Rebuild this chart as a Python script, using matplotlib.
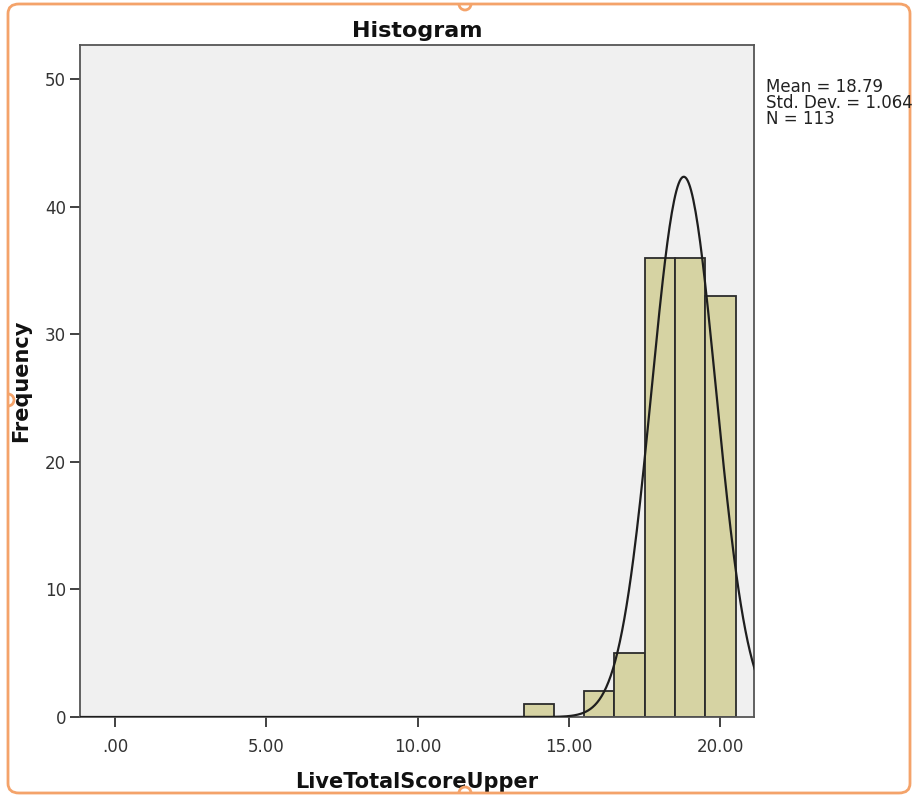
import matplotlib.pyplot as plt
from matplotlib.patches import FancyBboxPatch, Arc
import numpy as np

# histogram bins (left edges) and frequencies
bin_left = [13.5, 15.5, 16.5, 17.5, 18.5, 19.5]
counts = [1, 2, 5, 36, 36, 33]
bin_width = 1.0

mean = 18.79
std_dev = 1.064
n = 113

x_ticks = [0, 5, 10, 15, 20]
x_ticklabels = ['.00', '5.00', '10.00', '15.00', '20.00']
y_ticks = [0, 10, 20, 30, 40, 50]

plt.rcParams['font.family'] = ['DejaVu Sans']

fig = plt.figure(figsize=(9.16, 7.97), dpi=100)
ax = fig.add_axes([80/916, 1 - 717/797, (754 - 80)/916, (717 - 45)/797])
ax.set_facecolor('#f0f0f0')

ax.bar(bin_left, counts, width=bin_width, align='edge',
       color='#d6d3a3', edgecolor='#2b2b2b', linewidth=1.3, zorder=2)

# fitted normal curve
xs = np.linspace(-1.2, 21.2, 600)
ys = n * bin_width / (std_dev * np.sqrt(2 * np.pi)) * np.exp(-0.5 * ((xs - mean) / std_dev) ** 2)
ax.plot(xs, ys, color='#1e1e1e', linewidth=1.6, zorder=3)

ax.set_xlim(-1.16, 21.11)
ax.set_ylim(0, 52.7)
ax.set_xticks(x_ticks)
ax.set_xticklabels(x_ticklabels)
ax.set_yticks(y_ticks)
ax.tick_params(direction='out', length=7, width=1.3, color='#333333',
               labelsize=12, labelcolor='#333333', pad=3)
ax.tick_params(axis='x', pad=8)
for s in ax.spines.values():
    s.set_color('#555555')
    s.set_linewidth(1.3)

ax.set_title('Histogram', fontsize=16, fontweight='bold', pad=6, color='#111111')
ax.set_xlabel('LiveTotalScoreUpper', fontsize=15, fontweight='bold', labelpad=12, color='#111111')
ax.set_ylabel('Frequency', fontsize=15, fontweight='bold', labelpad=10, color='#111111')

fig.text(766/916, 1 - 78/797, 'Mean = 18.79\nStd. Dev. = 1.064\nN = 113',
         fontsize=12, va='top', ha='left', linespacing=0.85, color='#222222')

# orange rounded frame with small inward notches
orange = '#f4a36a'
frame = FancyBboxPatch((8/916, 4/797), 902/916, 789/797,
                       boxstyle='round,pad=0,rounding_size=0.012',
                       transform=fig.transFigure, fill=False,
                       edgecolor=orange, linewidth=2, zorder=0)
fig.patches.append(frame)
# (x, y from top of image, theta1, theta2)
for cx, cy, t1, t2 in [(465, 4, 180, 360), (465, 793, 0, 180), (8, 400, 270, 90)]:
    fig.patches.append(Arc((cx, 797 - cy), 12, 12, theta1=t1, theta2=t2,
                           transform=None, edgecolor=orange, linewidth=2))

fig.savefig('out.png', dpi=100)
